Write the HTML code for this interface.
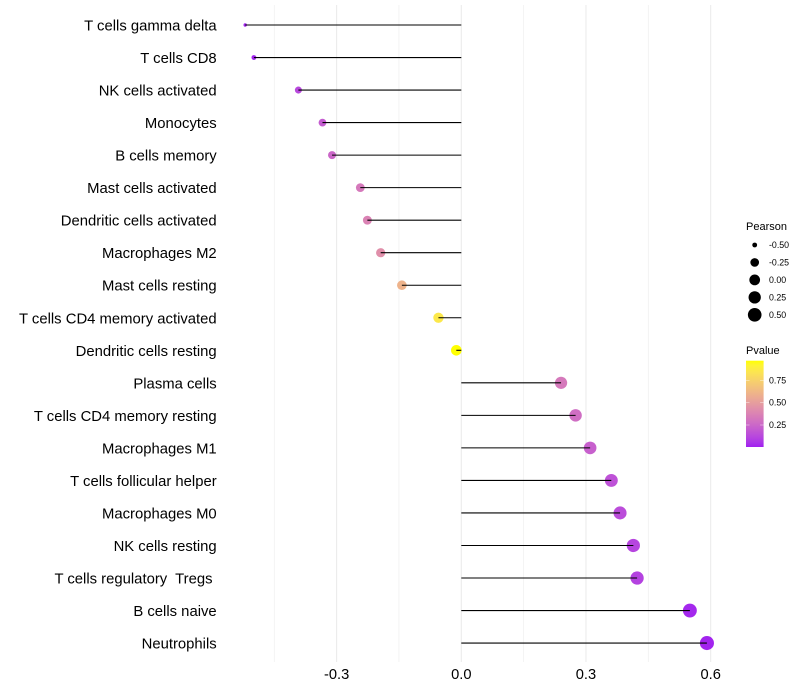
<!DOCTYPE html>
<html lang="en">
<head>
<meta charset="utf-8">
<title>Immune cell correlation lollipop chart</title>
<style>
html,body{margin:0;padding:0;background:#fff;width:800px;height:700px;overflow:hidden}
svg{display:block;font-family:"Liberation Sans",Arial,sans-serif}
text{white-space:pre}
</style>
</head>
<body>
<svg id="chart" xmlns="http://www.w3.org/2000/svg" width="800" height="700" viewBox="0 0 800 700">
  <defs>
    <linearGradient id="pvalue-gradient" x1="0" y1="1" x2="0" y2="0"></linearGradient>
  </defs>
  <g id="grid"></g>
  <g id="stems"></g>
  <g id="ylabels"></g>
  <g id="xlabels"></g>
  <g id="size-legend"></g>
  <g id="color-legend"></g>
</svg>
<script>
const categories = ["T cells gamma delta","T cells CD8","NK cells activated","Monocytes","B cells memory","Mast cells activated","Dendritic cells activated","Macrophages M2","Mast cells resting","T cells CD4 memory activated","Dendritic cells resting","Plasma cells","T cells CD4 memory resting","Macrophages M1","T cells follicular helper","Macrophages M0","NK cells resting","T cells regulatory  Tregs ","B cells naive","Neutrophils"];
const pearson = [-0.52,-0.499,-0.392,-0.334,-0.311,-0.243,-0.226,-0.194,-0.143,-0.055,-0.012,0.24,0.275,0.31,0.361,0.382,0.414,0.423,0.55,0.591];
const pvalue = [0.01,0.01,0.12,0.2,0.25,0.33,0.37,0.43,0.6,0.86,0.97,0.33,0.28,0.22,0.16,0.14,0.11,0.1,0.02,0.01];
const xMajorTicks = [-0.3,0,0.3,0.6];
const xMinorTicks = [-0.45,-0.15,0.15,0.45];
const xTickLabels = ["-0.3","0.0","0.3","0.6"];
const sizeLegendValues = [-0.5,-0.25,0,0.25,0.5];
const sizeLegendLabels = ["-0.50","-0.25","0.00","0.25","0.50"];
const colorLegendValues = [0.25,0.5,0.75];
const colorLegendLabels = ["0.25","0.50","0.75"];

const NS = "http://www.w3.org/2000/svg";
const panelTop = 5, panelBottom = 662;
const x = v => 461.3 + v * 415.6;
const y = i => 25 + i * 32.53;
const sizeMin = -0.52, sizeMax = 0.591;
const diameter = v => 3.4 + 10.7 * Math.sqrt(Math.max(0, (v - sizeMin) / (sizeMax - sizeMin)));
const legendY = p => 447.35 - p * 89.4;

function make(tag, attrs, parent, txt) {
  const el = document.createElementNS(NS, tag);
  for (const k in attrs) el.setAttribute(k, attrs[k]);
  if (txt !== undefined) el.textContent = txt;
  parent.appendChild(el);
  return el;
}

/* Lab interpolation between purple and yellow, as in ggplot's gradient */
function srgbToLab(c) {
  const l = c.map(v => { v /= 255; return v > 0.04045 ? Math.pow((v + 0.055) / 1.055, 2.4) : v / 12.92; });
  const X = (0.4124 * l[0] + 0.3576 * l[1] + 0.1805 * l[2]) / 0.95047;
  const Y = 0.2126 * l[0] + 0.7152 * l[1] + 0.0722 * l[2];
  const Z = (0.0193 * l[0] + 0.1192 * l[1] + 0.9505 * l[2]) / 1.08883;
  const f = t => t > 0.008856 ? Math.cbrt(t) : 7.787 * t + 16 / 116;
  return [116 * f(Y) - 16, 500 * (f(X) - f(Y)), 200 * (f(Y) - f(Z))];
}
function labToCss(L) {
  const fy = (L[0] + 16) / 116, fx = fy + L[1] / 500, fz = fy - L[2] / 200;
  const g = t => t * t * t > 0.008856 ? t * t * t : (t - 16 / 116) / 7.787;
  const X = g(fx) * 0.95047, Y = g(fy), Z = g(fz) * 1.08883;
  const r = [3.2406 * X - 1.5372 * Y - 0.4986 * Z, -0.9689 * X + 1.8758 * Y + 0.0415 * Z, 0.0557 * X - 0.204 * Y + 1.057 * Z];
  const out = r.map(v => {
    v = Math.min(1, Math.max(0, v));
    v = v > 0.0031308 ? 1.055 * Math.pow(v, 1 / 2.4) - 0.055 : 12.92 * v;
    return Math.round(v * 255);
  });
  return "rgb(" + out.join(",") + ")";
}
const labLow = srgbToLab([160, 32, 240]);
const labHigh = srgbToLab([255, 255, 0]);
const pDomainMax = 0.97;
function colorFor(p) {
  const t = Math.min(1, Math.max(0, p / pDomainMax));
  return labToCss(labLow.map((a, i) => a + (labHigh[i] - a) * t));
}

/* Grid */
const grid = document.getElementById("grid");
xMinorTicks.forEach(v => {
  const line = make("line", {x1: x(v), x2: x(v), y1: panelTop, y2: panelBottom, stroke: "#efefef", "stroke-width": 0.7}, grid);
  
  
});
xMajorTicks.forEach(v => {
  const line = make("line", {x1: x(v), x2: x(v), y1: panelTop, y2: panelBottom, stroke: "#ebebeb", "stroke-width": 1.07}, grid);
  
  
});

/* Lollipops: dot first, stem on top */
const stems = document.getElementById("stems");
categories.forEach((name, i) => {
  const dot = make("circle", {cx: x(pearson[i]), cy: y(i), r: diameter(pearson[i]) / 2, fill: colorFor(pvalue[i])}, stems);
  
  
  const stem = make("line", {x1: x(0), x2: x(pearson[i]), y1: y(i), y2: y(i), stroke: "#000", "stroke-width": 1.07}, stems);
  
  
});

/* Y labels */
const ylabels = document.getElementById("ylabels");
categories.forEach((name, i) => {
  const t = make("text", {x: 216.7, y: y(i) + 5.5, "text-anchor": "end", "font-size": 14.85, fill: "#000"}, ylabels, name);
  
  
});

/* X labels */
const xlabels = document.getElementById("xlabels");
xMajorTicks.forEach((v, i) => {
  const t = make("text", {x: x(v), y: 679, "text-anchor": "middle", "font-size": 14.67, fill: "#000"}, xlabels, xTickLabels[i]);
  
  
});

/* Pearson legend */
const sizeLegend = document.getElementById("size-legend");
const sizeTitle = make("text", {x: 746, y: 230, "font-size": 11, fill: "#000"}, sizeLegend, "Pearson");


sizeLegendValues.forEach((v, i) => {
  const cy = 245 + i * 17.45;
  const c = make("circle", {cx: 754.7, cy: cy, r: diameter(v) / 2, fill: "#000"}, sizeLegend);
  
  
  const t = make("text", {x: 769, y: cy + 3, "font-size": 8.8, fill: "#000"}, sizeLegend, sizeLegendLabels[i]);
  
  
});

/* Pvalue legend */
const colorLegend = document.getElementById("color-legend");
const grad = document.getElementById("pvalue-gradient");
for (let s = 0; s <= 20; s++) {
  make("stop", {offset: s / 20, "stop-color": colorFor(pDomainMax * s / 20)}, grad);
}
const colorTitle = make("text", {x: 746, y: 354, "font-size": 11, fill: "#000"}, colorLegend, "Pvalue");


const bar = make("rect", {x: 746, y: 360.7, width: 17.6, height: 86.3, fill: "url(#pvalue-gradient)"}, colorLegend);


colorLegendValues.forEach((v, i) => {
  const yy = legendY(v);
  const a = make("line", {x1: 746, x2: 749.5, y1: yy, y2: yy, stroke: "#fff", "stroke-width": 0.5, "stroke-opacity": 0.8}, colorLegend);
  
  
  const b = make("line", {x1: 760.1, x2: 763.6, y1: yy, y2: yy, stroke: "#fff", "stroke-width": 0.5, "stroke-opacity": 0.8}, colorLegend);
  
  
  const t = make("text", {x: 769, y: yy + 3, "font-size": 8.8, fill: "#000"}, colorLegend, colorLegendLabels[i]);
  
  
});
</script>
</body>
</html>
